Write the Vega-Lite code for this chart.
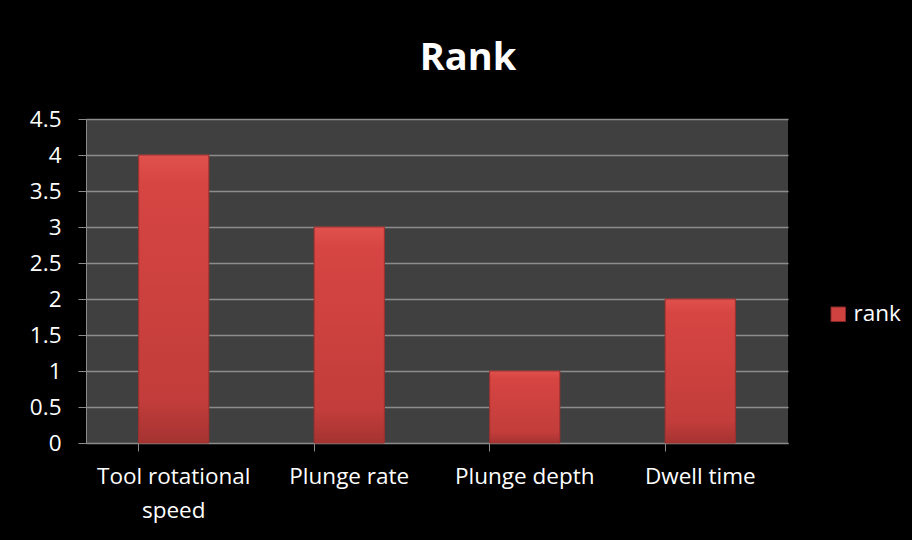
{
  "$schema": "https://vega.github.io/schema/vega-lite/v6.json",
  "width": 702,
  "height": 324,
  "autosize": {"type": "none"},
  "padding": {"left": 86, "top": 119, "right": 124, "bottom": 97},
  "background": "#000000",
  "title": {
    "text": "Rank",
    "font": "Open Sans",
    "fontSize": 38,
    "fontWeight": "bold",
    "color": "#ffffff",
    "anchor": "middle",
    "frame": "group",
    "dx": 31,
    "offset": 30
  },
  "data": {
    "values": [
      {"factor": "Tool rotational speed", "rank": 4, "series": "rank"},
      {"factor": "Plunge rate", "rank": 3, "series": "rank"},
      {"factor": "Plunge depth", "rank": 1, "series": "rank"},
      {"factor": "Dwell time", "rank": 2, "series": "rank"}
    ]
  },
  "encoding": {
    "x": {
      "field": "factor",
      "type": "nominal",
      "sort": null,
      "title": null,
      "scale": {"paddingInner": 0.6, "paddingOuter": 0.3},
      "axis": {
        "labelAngle": 0,
        "labelFont": "Open Sans",
        "labelFontSize": 22.5,
        "labelColor": "#ffffff",
        "labelPadding": 14,
        "labelLineHeight": 34,
        "labelExpr": "datum.label == 'Tool rotational speed' ? ['Tool rotational', 'speed'] : datum.label",
        "bandPosition": 0,
        "tickSize": 8,
        "tickColor": "#8c8c8c",
        "domainColor": "#8c8c8c",
        "grid": false
      }
    },
    "y": {
      "field": "rank",
      "type": "quantitative",
      "title": null,
      "scale": {"domain": [0, 4.5], "nice": false},
      "axis": {
        "values": [0, 0.5, 1, 1.5, 2, 2.5, 3, 3.5, 4, 4.5],
        "format": "~g",
        "labelFont": "Open Sans",
        "labelFontSize": 22.5,
        "labelColor": "#ffffff",
        "labelPadding": 17,
        "tickSize": 8,
        "tickColor": "#8c8c8c",
        "domainColor": "#8c8c8c",
        "gridColor": "#8c8c8c",
        "gridWidth": 1.5
      }
    }
  },
  "layer": [
    {
      "mark": {"type": "bar"},
      "encoding": {
        "color": {
          "field": "series",
          "type": "nominal",
          "scale": {"range": ["#cf4240"]},
          "legend": {
            "title": null,
            "orient": "none",
            "legendX": 741,
            "legendY": 184,
            "symbolType": "square",
            "symbolSize": 210,
            "symbolStrokeColor": "#8a2a28",
            "symbolStrokeWidth": 1,
            "labelFont": "Open Sans",
            "labelFontSize": 22.5,
            "labelColor": "#ffffff",
            "labelOffset": 4
          }
        }
      }
    },
    {
      "mark": {
        "type": "bar",
        "stroke": "#9a302e",
        "strokeWidth": 1,
        "color": {
          "x1": 0, "y1": 0, "x2": 0, "y2": 1,
          "gradient": "linear",
          "stops": [
            {"offset": 0, "color": "#e0504c"},
            {"offset": 0.1, "color": "#d64542"},
            {"offset": 0.85, "color": "#c23d3b"},
            {"offset": 1, "color": "#a53331"}
          ]
        }
      }
    }
  ],
  "config": {
    "view": {"fill": "#404040", "stroke": null}
  }
}
